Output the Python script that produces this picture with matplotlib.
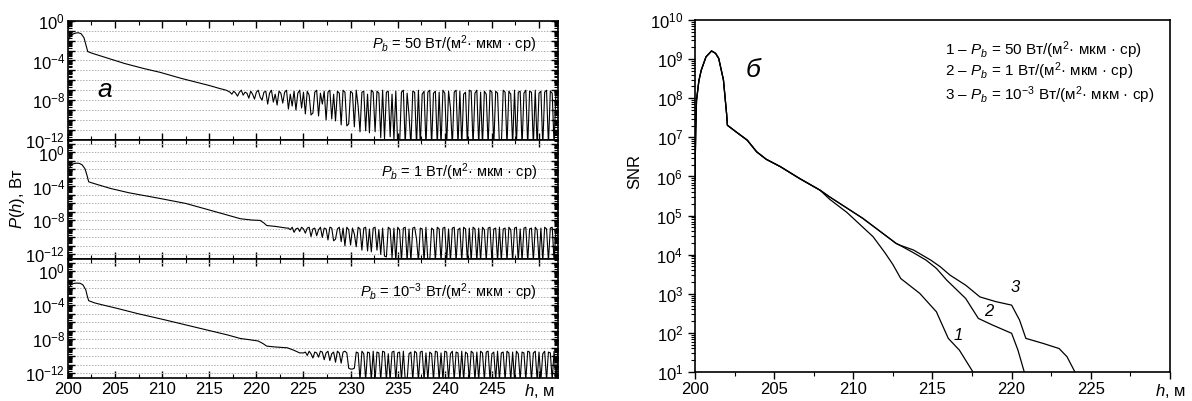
import numpy as np
import matplotlib
matplotlib.use("Agg")
import matplotlib.pyplot as plt
from matplotlib.ticker import LogLocator, FuncFormatter, MultipleLocator, NullFormatter

plt.rcParams["font.family"] = ["Liberation Sans", "DejaVu Sans"]
plt.rcParams["mathtext.fontset"] = "custom"
plt.rcParams["mathtext.rm"] = "Liberation Sans"
plt.rcParams["mathtext.it"] = "Liberation Sans:italic"

# --- panel (a): received power, log10 P [W] ---
# smooth part of each trace, then the noisy tail sampled every 0.2 m
p1_h = [200.0, 200.3, 200.6, 200.9, 201.1, 201.4, 201.7, 201.9, 202.1, 202.5, 203.0,
        204.3, 206.0, 208.0, 209.8, 212.0, 215.1, 216.0, 216.8]
p1_log = [-2.0, -1.5, -1.3, -1.22, -1.2, -1.3, -1.7, -2.4, -3.1, -3.25, -3.4,
          -3.8, -4.3, -4.8, -5.2, -5.8, -6.55, -6.8, -7.0]
p1_tail_start = 217.0
p1_tail = [
    -7.1, -7.2, -7.4, -7.1, -7.3, -7.6, -7.2, -7.0, -7.5, -7.2,
    -7.3, -7.8, -7.1, -7.4, -7.9, -7.2, -7.0, -7.7, -8.0, -7.2,
    -7.1, -8.4, -7.3, -7.0, -8.2, -7.4, -8.5, -7.1, -7.3, -8.3,
    -7.2, -7.0, -8.9, -7.4, -8.6, -7.1, -9.0, -7.3, -7.0, -8.8,
    -7.2, -9.4, -7.1, -7.5, -9.5, -9.3, -7.2, -7.0, -9.6, -7.3,
    -8.4, -7.1, -10.0, -7.2, -7.0, -9.9, -7.4, -10.1, -7.1, -7.3,
    -10.5, -7.0, -7.2, -10.6, -10.4, -7.1, -7.3, -10.7, -7.0, -8.6,
    -11.2, -7.2, -7.1, -11.1, -7.4, -11.3, -7.0, -7.2, -11.2, -7.1,
    -7.3, -11.8, -7.0, -11.9, -7.2, -7.1, -11.7, -7.4, -12.0, -7.1,
    -12.6, -12.6, -7.2, -7.0, -12.6, -7.3, -9.5, -12.6, -7.1, -7.2,
    -12.6, -7.0, -12.6, -7.4, -7.1, -12.6, -7.2, -7.0, -12.6, -7.3,
    -7.1, -12.6, -7.2, -12.6, -7.0, -7.3, -12.6, -7.1, -8.8, -12.6,
    -7.2, -7.0, -12.6, -7.1, -12.6, -7.4, -7.2, -12.6, -7.0, -7.1,
    -12.6, -7.3, -7.0, -12.6, -7.2, -12.6, -7.1, -7.4, -12.6, -7.0,
    -7.2, -12.6, -7.1, -7.3, -12.6, -12.6, -7.0, -7.2, -12.6, -7.1,
    -7.4, -12.6, -7.0, -12.6, -7.2, -7.1, -12.6, -7.3, -7.0, -12.6,
    -7.1, -7.2, -12.6, -7.0, -12.6, -7.3, -7.1, -12.6, -7.2, -7.0,
    -12.6, -7.1, -7.3, -12.6, -7.0, -7.2,
]

p2_h = [200.0, 200.3, 200.6, 200.9, 201.2, 201.5, 201.8, 202.0, 202.2, 202.6, 203.2,
        204.5, 206.5, 208.0, 209.8, 212.5, 215.1, 217.0, 218.3, 219.5, 220.4, 220.8,
        221.1, 222.0, 222.6, 223.2]
p2_log = [-2.05, -1.55, -1.32, -1.26, -1.28, -1.45, -1.9, -2.6, -3.45, -3.6, -3.8,
          -4.23, -4.75, -5.05, -5.42, -6.0, -6.8, -7.4, -7.8, -7.95, -8.0, -8.3,
          -8.6, -8.7, -8.8, -8.9]
p2_tail_start = 223.4
p2_tail = [
    -8.9, -9.1, -8.8, -9.4, -9.0, -8.9, -9.3, -8.8, -9.0, -9.5,
    -8.9, -8.8, -9.9, -9.0, -8.9, -9.8, -9.1, -8.8, -10.0, -8.9,
    -9.0, -10.3, -8.8, -8.9, -10.4, -10.2, -9.0, -8.8, -10.5, -8.9,
    -11.0, -8.8, -9.1, -10.9, -8.9, -9.6, -11.1, -8.8, -9.0, -11.5,
    -8.9, -8.8, -11.6, -9.0, -11.7, -8.9, -8.8, -11.5, -9.1, -12.0,
    -8.9, -12.2, -12.3, -8.8, -9.0, -12.4, -8.9, -12.8, -8.8, -9.1,
    -12.8, -8.9, -8.8, -12.8, -9.0, -12.8, -8.9, -8.8, -10.2, -12.8,
    -8.9, -9.0, -12.8, -8.8, -12.8, -12.8, -8.9, -9.1, -12.8, -8.8,
    -9.0, -12.8, -8.9, -8.8, -12.8, -9.0, -12.8, -8.9, -8.8, -12.8,
    -9.1, -8.9, -12.8, -8.8, -9.0, -12.8, -8.9, -12.8, -8.8, -9.0,
    -12.8, -8.9, -12.8, -8.8, -9.1, -12.8, -8.9, -8.8, -12.8, -9.0,
    -8.9, -12.8, -8.8, -12.8, -9.0, -8.9, -12.8, -8.8, -9.1, -12.8,
    -8.9, -8.8, -12.8, -9.0, -12.8, -8.9, -8.8, -12.8, -9.0, -8.9,
    -12.8, -8.8, -9.1, -12.8, -8.9, -12.8, -8.8, -9.0, -12.8, -8.9,
    -8.8, -12.8, -9.0, -8.9,
]

p3_h = [200.0, 200.3, 200.6, 200.9, 201.3, 201.6, 201.9, 202.05, 202.2, 202.8, 203.5,
        205.2, 207.5, 210.1, 212.5, 215.1, 217.0, 218.3, 219.3, 220.2, 220.7, 221.1,
        222.0, 223.3, 224.0, 224.6]
p3_log = [-2.1, -1.6, -1.42, -1.38, -1.4, -1.6, -2.2, -2.9, -3.45, -3.7, -3.9,
          -4.35, -5.0, -5.66, -6.3, -7.0, -7.5, -7.9, -8.05, -8.2, -8.5, -8.8,
          -8.9, -9.0, -9.3, -9.6]
p3_tail_start = 225.0
p3_tail = [
    -9.6, -9.5, -9.9, -9.4, -9.7, -10.2, -9.5, -9.6, -10.1, -9.4,
    -9.5, -10.4, -9.6, -9.4, -10.5, -9.7, -9.5, -10.7, -9.4, -9.6,
    -10.8, -9.5, -9.4, -9.6, -11.4, -11.5, -11.5, -11.4, -9.5, -9.6,
    -12.8, -9.4, -9.7, -12.8, -9.5, -9.6, -12.8, -9.4, -12.8, -9.5,
    -9.6, -12.8, -9.4, -9.5, -12.8, -9.7, -12.8, -9.5, -9.4, -12.8,
    -9.6, -9.5, -12.8, -9.4, -12.8, -12.8, -9.7, -9.5, -12.8, -9.4,
    -9.6, -12.8, -9.5, -9.4, -12.8, -9.6, -12.8, -9.5, -9.7, -12.8,
    -9.4, -9.5, -12.8, -9.6, -12.8, -9.4, -9.5, -12.8, -9.7, -9.4,
    -12.8, -9.5, -9.6, -12.8, -9.4, -12.8, -9.5, -9.7, -12.8, -9.4,
    -9.6, -12.8, -9.5, -12.8, -9.4, -9.6, -12.8, -9.5, -9.4, -12.8,
    -9.7, -9.5, -12.8, -9.4, -12.8, -9.6, -9.5, -12.8, -9.4, -9.6,
    -12.8, -9.5, -12.8, -9.4, -9.7, -12.8, -9.5, -9.6, -12.8, -9.4,
    -9.5, -12.8, -9.6, -9.4, -12.8, -9.5, -12.8, -9.7, -9.4, -12.8,
    -9.5, -9.6, -12.8, -9.4, -12.8, -9.5,
]
tail_step = 0.2

panel_labels = [
    r"$P_b$ = 50 Вт/(м$^2$· мкм · ср)",
    r"$P_b$ = 1 Вт/(м$^2$· мкм · ср)",
    r"$P_b$ = 10$^{-3}$ Вт/(м$^2$· мкм · ср)",
]
left_xticks = [200, 205, 210, 215, 220, 225, 230, 235, 240, 245, 250]
left_xticklabels = ["200", "205", "210", "215", "220", "225", "230", "235", "240", "245",
                    r"$h$, м"]

# --- panel (б): SNR, log10 ---
snr_common_h = [200.0, 200.05, 200.1, 200.25, 200.4, 200.7, 201.05, 201.3, 201.5, 201.8,
                202.0, 202.05, 202.6, 203.3, 203.9, 204.5, 205.4, 206.6, 207.9]
snr_common = [5.9, 7.2, 7.95, 8.45, 8.72, 9.06, 9.21, 9.15, 9.02, 8.47,
              7.6, 7.31, 7.14, 6.93, 6.63, 6.44, 6.25, 5.95, 5.65]
snr1_h = [208.5, 209.6, 211.25, 212.0, 212.5, 213.0, 214.2, 215.25, 216.0, 216.7, 217.56]
snr1 = [5.42, 5.08, 4.46, 4.05, 3.75, 3.39, 3.01, 2.54, 1.86, 1.56, 1.0]
snr23_h = [208.5, 210.6, 212.7, 212.9]
snr23 = [5.48, 4.93, 4.29, 4.25]
snr2_h = [213.8, 214.6, 215.25, 215.9, 217.1, 217.9, 218.8, 220.0, 220.4, 220.8]
snr2 = [4.05, 3.86, 3.65, 3.35, 2.88, 2.37, 2.2, 1.99, 1.56, 1.0]
snr3_h = [213.8, 214.9, 215.5, 216.1, 217.1, 218.0, 219.0, 220.0, 220.5, 220.9, 222.0,
          223.0, 223.5, 224.0]
snr3 = [4.12, 3.86, 3.69, 3.48, 3.22, 2.92, 2.80, 2.71, 2.33, 1.86, 1.73, 1.60, 1.39, 1.0]
curve_names = ["1", "2", "3"]
curve_label_pos = [(216.6, 1.94), (218.55, 2.54), (220.2, 3.15)]
legend_lines = [
    r"$\mathit{1}$ – $P_b$ = 50 Вт/(м$^2$· мкм · ср)",
    r"$\mathit{2}$ – $P_b$ = 1 Вт/(м$^2$· мкм · ср)",
    r"$\mathit{3}$ – $P_b$ = 10$^{-3}$ Вт/(м$^2$· мкм · ср)",
]
right_xticks = [200, 205, 210, 215, 220, 225, 230]
right_xticklabels = ["200", "205", "210", "215", "220", "225", r"$h$, м"]


def dec_fmt(every):
    def f(v, pos):
        e = int(round(np.log10(v)))
        if e % every:
            return ""
        return r"$10^{%d}$" % e
    return FuncFormatter(f)


fig = plt.figure(figsize=(11.92, 4.01), dpi=100)

panels = [
    (p1_h, p1_log, p1_tail_start, p1_tail, (-12.0, 0.0)),
    (p2_h, p2_log, p2_tail_start, p2_tail, (-12.5, 1.5)),
    (p3_h, p3_log, p3_tail_start, p3_tail, (-12.5, 1.5)),
]
top, ph = 0.948, 0.2965
for i, (h, lg, t0, tail, ylim) in enumerate(panels):
    ax = fig.add_axes([0.057, top - (i + 1) * ph, 0.411, ph])
    hh = np.concatenate([h, t0 + tail_step * np.arange(len(tail))])
    yy = 10.0 ** np.concatenate([lg, tail])
    ax.plot(hh, yy, color="black", lw=0.8)
    ax.set_yscale("log")
    ax.set_ylim(10 ** ylim[0], 10 ** ylim[1])
    ax.set_xlim(200, 252)
    ax.yaxis.set_major_locator(LogLocator(base=10, subs=(1.0,), numticks=40))
    ax.yaxis.set_minor_locator(LogLocator(base=10, subs=np.arange(2, 10), numticks=100))
    ax.yaxis.set_major_formatter(dec_fmt(4))
    ax.yaxis.set_minor_formatter(NullFormatter())
    ax.grid(axis="y", which="major", color="#b0b0b0", ls=(0, (1.5, 1.5)), lw=0.7)
    ax.set_xticks(left_xticks)
    ax.xaxis.set_minor_locator(MultipleLocator(2.5))
    if i == 2:
        ax.set_xticklabels(left_xticklabels)
    else:
        ax.set_xticklabels([])
    ax.tick_params(which="both", direction="in", top=True, right=True, labelsize=12)
    ax.tick_params(which="major", length=5, width=1)
    ax.tick_params(which="minor", length=3, width=0.8)
    ax.tick_params(axis="y", pad=2)
    for s in ax.spines.values():
        s.set_linewidth(1.2)
    ax.text(0.957, [0.80, 0.73, 0.72][i], panel_labels[i], transform=ax.transAxes,
            ha="right", va="center", fontsize=10.5)
    if i == 0:
        ax.text(0.06, 0.42, "а", transform=ax.transAxes, fontsize=19,
                style="italic", ha="left", va="center")

fig.text(0.015, 0.505, r"$P(h)$, Вт", rotation=90, ha="center", va="center", fontsize=12)

# right panel
ax = fig.add_axes([0.583, 0.0723, 0.3985, 0.8777])
for hs, vs in [(snr1_h, snr1), (snr23_h + snr2_h, snr23 + snr2), (snr23_h + snr3_h, snr23 + snr3)]:
    ax.plot(snr_common_h + hs, 10.0 ** np.array(snr_common + vs), color="black", lw=0.9)
ax.set_yscale("log")
ax.set_ylim(10, 1e10)
ax.set_xlim(200, 230)
ax.yaxis.set_major_locator(LogLocator(base=10, subs=(1.0,), numticks=40))
ax.yaxis.set_minor_locator(LogLocator(base=10, subs=np.arange(2, 10), numticks=100))
ax.yaxis.set_major_formatter(dec_fmt(1))
ax.yaxis.set_minor_formatter(NullFormatter())
ax.set_xticks(right_xticks)
ax.set_xticklabels(right_xticklabels)
ax.xaxis.set_minor_locator(MultipleLocator(2.5))
ax.tick_params(which="both", direction="out", labelsize=12)
ax.tick_params(which="major", length=5, width=1)
ax.tick_params(which="minor", length=3, width=0.8)
ax.tick_params(axis="x", pad=2)
for s in ax.spines.values():
    s.set_linewidth(1.2)
ax.set_ylabel("SNR", fontsize=12)
ax.yaxis.set_label_coords(-0.11, 0.57)
for name, (x, lg) in zip(curve_names, curve_label_pos):
    ax.text(x, 10 ** lg, name, fontsize=12, style="italic", ha="center", va="center")
ax.text(203.7, 10 ** 8.72, "б", fontsize=19, style="italic", ha="center", va="center")
for k, line in enumerate(legend_lines):
    ax.text(0.526, [0.915, 0.854, 0.787][k], line, transform=ax.transAxes,
            ha="left", va="center", fontsize=11)

fig.savefig("out.png", dpi=100)
